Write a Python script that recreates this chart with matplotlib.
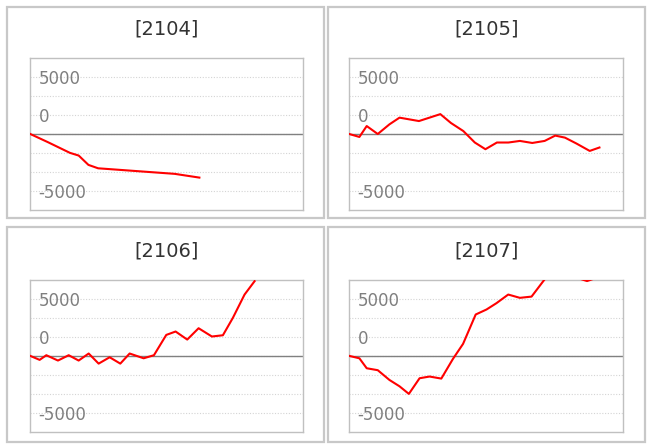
import matplotlib
matplotlib.use("Agg")
import matplotlib.pyplot as plt
from matplotlib.patches import Rectangle

# day position within the month, running balance
titles = ["[2104]", "[2105]", "[2106]", "[2107]"]

x_2104 = [0, 2.0, 4.5, 5.5, 6.6, 7.7, 16.4, 19.2]
y_2104 = [0, -720, -1660, -1900, -2720, -3020, -3510, -3840]

x_2105 = [0, 1.14, 1.97, 3.22, 4.54, 5.68, 7.88, 10.3, 11.5, 12.9, 14.2,
          15.4, 16.7, 18.0, 19.3, 20.7, 22.1, 23.3, 24.4, 25.7, 27.2, 28.3]
y_2105 = [0, -260, 700, 0, 850, 1440, 1140, 1750, 970, 260, -750,
          -1340, -750, -750, -610, -790, -610, -140, -320, -840, -1490, -1190]

x_2106 = [0, 1.06, 1.82, 3.14, 4.36, 5.49, 6.63, 7.76, 9.01, 10.22, 11.28,
          12.87, 14.04, 15.44, 16.5, 17.82, 19.11, 20.62, 21.87, 23.0, 24.33, 25.47]
y_2106 = [0, -350, 60, -410, 60, -410, 210, -680, -120, -680, 210,
          -210, 60, 1850, 2150, 1440, 2440, 1710, 1820, 3350, 5410, 6590]

x_2107 = [0, 1.14, 1.97, 3.22, 4.54, 5.68, 6.74, 7.95, 9.08, 10.41, 11.73,
          12.87, 14.3, 15.52, 16.65, 17.98, 19.3, 20.62, 23.3, 24.5, 25.7, 26.9, 28.0, 29.1]
y_2107 = [0, -210, -1090, -1260, -2120, -2680, -3350, -1970, -1820, -2000, -260,
          1060, 3650, 4090, 4650, 5410, 5120, 5230, 7980, 8300, 6900, 6600, 6900, 7900]

series = [(x_2104, y_2104), (x_2105, y_2105), (x_2106, y_2106), (x_2107, y_2107)]

step = 5000 / 3
y_ticks = [-3 * step, -2 * step, -step, 0, step, 2 * step, 3 * step]
y_tick_labels = ["-5000", "", "", "", "0", "", "5000"]

W, H = 651, 446
fig = plt.figure(figsize=(W / 100, H / 100), dpi=100)
fig.patch.set_facecolor("white")

# pixel boxes: (left, top, right, bottom)
panels = [(7, 7, 324, 218), (328, 7, 645, 218),
          (7, 227, 324, 442), (328, 227, 645, 442)]
plots = [(30.3, 58.3, 303.3, 209.7), (349.3, 58.3, 623.3, 209.7),
         (30.3, 280.3, 303.3, 431.5), (349.3, 280.3, 623.3, 431.5)]

for (pl, pt, pr, pb), (al, at, ar, ab), title, (xs, ys) in zip(panels, plots, titles, series):
    fig.patches.append(Rectangle((pl / W, 1 - pb / H), (pr - pl) / W, (pb - pt) / H,
                                 transform=fig.transFigure, fill=False,
                                 edgecolor="#c8c8c8", linewidth=1.6))
    ax = fig.add_axes([al / W, 1 - ab / H, (ar - al) / W, (ab - at) / H])
    ax.set_xlim(0, 31)
    ax.set_ylim(-4 * step, 4 * step)
    ax.set_yticks(y_ticks)
    ax.set_yticklabels(y_tick_labels)
    ax.set_xticks([])
    ax.tick_params(axis="y", length=0, pad=-6, labelsize=12, labelcolor="#7f7f7f")
    for lab in ax.get_yticklabels():
        lab.set_horizontalalignment("left")
    ax.grid(axis="y", color="#d4d4d4", linestyle=(0, (1, 1.5)), linewidth=0.8)
    ax.axhline(0, color="#808080", linewidth=1.0, zorder=2)
    for s in ax.spines.values():
        s.set_color("#c0c0c0")
        s.set_linewidth(1.0)
    ax.plot(xs, ys, color="#ff0000", linewidth=1.5, zorder=3)
    ax.annotate(title, xy=(0.5, 1), xycoords="axes fraction",
                xytext=(0, 21), textcoords="offset points",
                ha="center", va="center", fontsize=14, color="#333333")

fig.savefig("out.png", dpi=100)
